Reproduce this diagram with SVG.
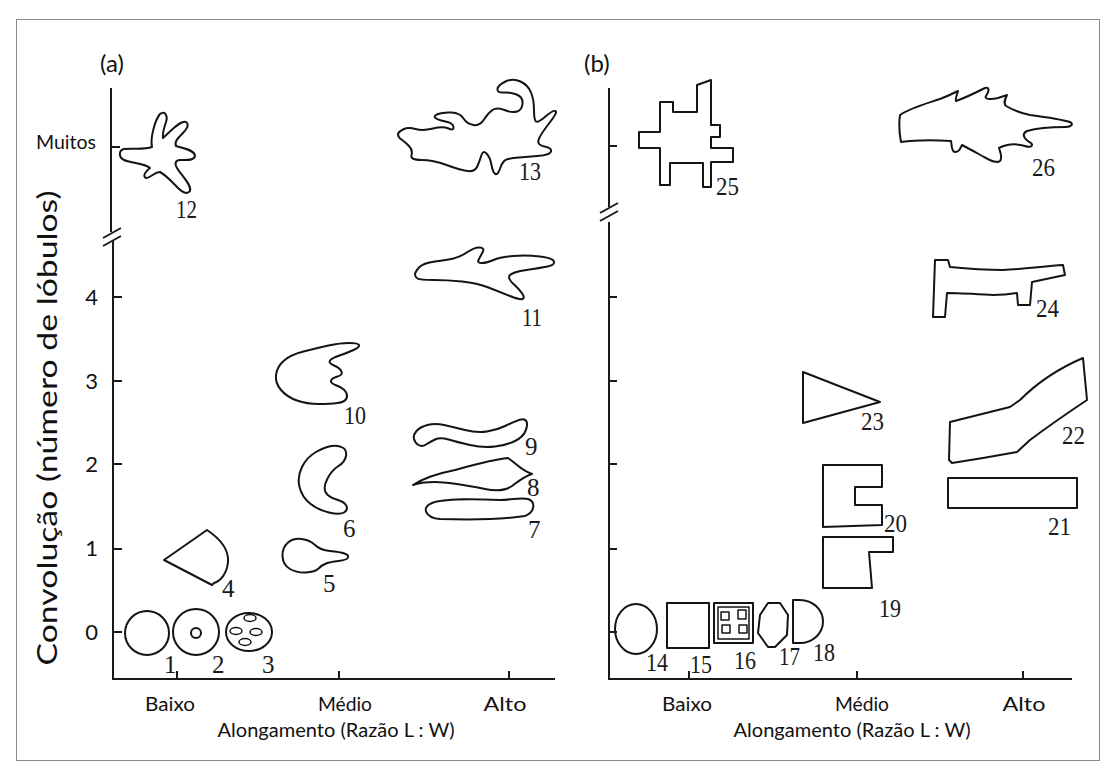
<svg xmlns="http://www.w3.org/2000/svg" width="1118" height="779" viewBox="0 0 1118 779">
<style>
  .ax{stroke:#1a1a1a;stroke-width:2;fill:none}
  .sh{stroke:#141414;stroke-width:2;fill:none;stroke-linejoin:round;stroke-linecap:round}
  .thin{stroke-width:1.5}
  .num{font-family:"Liberation Serif","Times New Roman",serif;font-size:25px;fill:#1a1a1a}
  .lbl{font-family:Lato,"Liberation Sans",sans-serif;font-size:19.5px;fill:#111;text-anchor:middle}
  .tk{font-family:Lato,"Liberation Sans",sans-serif;font-size:22px;fill:#111;text-anchor:end}
  .pn{font-family:Lato,"Liberation Sans",sans-serif;font-size:24px;fill:#111}
  .yl{font-family:Lato,"Liberation Sans",sans-serif;font-size:27px;fill:#111;text-anchor:middle}
</style>
<rect x="0" y="0" width="1118" height="779" fill="#ffffff"/>
<rect x="16.5" y="19.5" width="1083" height="741" fill="none" stroke="#8a8a8a" stroke-width="1"/>

<!-- panel (a) axes -->
<g id="axes-a">
  <g class="ax">
    <path d="M111,88 V232"/>
    <path d="M113,240 V679 H555"/>
    <path d="M111,147 H120"/>
    <path d="M113,297 H122 M113,381 H122 M113,464 H122 M113,549 H122 M113,632 H122"/>
    <path d="M177,679 V671 M339,679 V671 M509,679 V671"/>
    <path d="M103,238 L121,228 M103,246 L121,236"/>
  </g>
  <text class="pn" x="100" y="72">(a)</text>
  <text class="tk" x="96" y="149" style="font-size:19px" textLength="60" lengthAdjust="spacingAndGlyphs">Muitos</text>
  <text class="tk" x="98" y="305">4</text>
  <text class="tk" x="98" y="389">3</text>
  <text class="tk" x="98" y="472">2</text>
  <text class="tk" x="98" y="556">1</text>
  <text class="tk" x="98" y="640">0</text>
  <text class="yl" transform="translate(57,428) rotate(-90)" textLength="475" lengthAdjust="spacingAndGlyphs">Convolução (número de lóbulos)</text>
  <text class="lbl" x="170" y="711" textLength="50" lengthAdjust="spacingAndGlyphs">Baixo</text>
  <text class="lbl" x="345" y="711" textLength="54" lengthAdjust="spacingAndGlyphs">Médio</text>
  <text class="lbl" x="505" y="711" textLength="43" lengthAdjust="spacingAndGlyphs">Alto</text>
  <text class="lbl" x="336" y="737" textLength="237" lengthAdjust="spacingAndGlyphs">Alongamento (Razão L : W)</text>
</g>

<!-- panel (b) axes -->
<g id="axes-b">
  <g class="ax">
    <path d="M609,88 V207"/>
    <path d="M609,222 V679 H1072"/>
    <path d="M609,146 H617"/>
    <path d="M609,297 H617 M609,381 H617 M609,464 H617 M609,549 H617 M609,632 H617"/>
    <path d="M689,679 V671 M857,679 V671 M1023,679 V671"/>
    <path d="M600,213 L618,203 M600,221 L618,211"/>
  </g>
  <text class="pn" x="584" y="72">(b)</text>
  <text class="lbl" x="687" y="711" textLength="50" lengthAdjust="spacingAndGlyphs">Baixo</text>
  <text class="lbl" x="862" y="711" textLength="54" lengthAdjust="spacingAndGlyphs">Médio</text>
  <text class="lbl" x="1024" y="711" textLength="43" lengthAdjust="spacingAndGlyphs">Alto</text>
  <text class="lbl" x="852" y="737" textLength="237" lengthAdjust="spacingAndGlyphs">Alongamento (Razão L : W)</text>
</g>

<!-- panel (a) shapes -->
<g id="shape-1"><circle class="sh" cx="147" cy="633" r="22"/><text class="num" x="164" y="673">1</text></g>
<g id="shape-2"><circle class="sh" cx="196" cy="632" r="23"/><circle class="sh" cx="196" cy="633" r="5"/><text class="num" x="212" y="673">2</text></g>
<g id="shape-3">
  <ellipse class="sh" cx="249" cy="632" rx="23" ry="19"/>
  <ellipse class="sh thin" cx="250" cy="618" rx="6" ry="3.5"/>
  <ellipse class="sh thin" cx="236" cy="631" rx="6" ry="3.5"/>
  <ellipse class="sh thin" cx="256" cy="632" rx="6" ry="3.5"/>
  <ellipse class="sh thin" cx="245" cy="642" rx="6" ry="3.5"/>
  <text class="num" x="262" y="673">3</text>
</g>
<g id="shape-4"><path class="sh" d="M164,560 L207,530 C219,538 229,549 228,562 C227,573 221,581 214,583 L212,585 Z"/><text class="num" x="222" y="597">4</text></g>
<g id="shape-5"><path class="sh" d="M287.5,543 Q293,538 301.5,539 Q310,540 315,545 Q320,550 330,551 Q340,552 344.5,553.5 Q349,555 348,557.5 Q347,560 338.5,561 Q330,562 326,563.5 Q322,565 318.5,568.5 Q315,572 306,572.5 Q297,573 290,569 Q283,565 282.5,556.5 Q282,548 287.5,543 Z"/><text class="num" x="323" y="592">5</text></g>
<g id="shape-6"><path class="sh" d="M331.5,446 Q338,445 342.5,447.5 Q347,450 346,456 Q345,462 338.5,466 Q332,470 327.5,478.5 Q323,487 325.5,492 Q328,497 336.5,499.5 Q345,502 346.5,506 Q348,510 344,512.5 Q340,515 329,512.5 Q318,510 310,503.5 Q302,497 299.5,487 Q297,477 302,467 Q307,457 316,452 Q325,447 331.5,446 Z"/><text class="num" x="343" y="537">6</text></g>
<g id="shape-7"><path class="sh" d="M432,503 C445,498 475,499 500,500 C512,500 520,497 528,499 C536,502 535,512 525,516 C505,519 470,520 440,519 C425,518 421,507 432,503 Z"/><text class="num" x="528" y="538">7</text></g>
<g id="shape-8"><path class="sh" d="M413,485 C425,477 440,473 455,470 C470,466 490,460 508,458 C515,462 520,470 532,474 C525,476 520,480 512,486 C505,491 495,491 485,489 C470,486 450,482 435,482 C425,482 418,483 413,485 Z"/><text class="num" x="527" y="496">8</text></g>
<g id="shape-9"><path class="sh" d="M418.5,445 Q415,443 414,439 Q413,435 416.5,431 Q420,427 427.5,425 Q435,423 444,425 Q453,427 465,430 Q477,433 487,431.5 Q497,430 505,426 Q513,422 519,420 Q525,418 526.5,421.5 Q528,425 525.5,431 Q523,437 515,441 Q507,445 495,446.5 Q483,448 470,445 Q457,442 448.5,439.5 Q440,437 435,439.5 Q430,442 426,444.5 Q422,447 418.5,445 Z"/><text class="num" x="525" y="455">9</text></g>
<g id="shape-10"><path class="sh" d="M349,343 Q358,343 359,345 Q360,347 353.5,350 Q347,353 339.5,355.5 Q332,358 330,360.5 Q328,363 334,365.5 Q340,368 341.5,371.5 Q343,375 337.5,376.5 Q332,378 331,380.5 Q330,383 336.5,385.5 Q343,388 345.5,391.5 Q348,395 346.5,398.5 Q345,402 337.5,403 Q330,404 318.5,404 Q307,404 297,400.5 Q287,397 281,390 Q275,383 276,375 Q277,367 283.5,361 Q290,355 303.5,351.5 Q317,348 328.5,345.5 Q340,343 349,343 Z"/><text class="num" x="344" y="424" textLength="22" lengthAdjust="spacingAndGlyphs">10</text></g>
<g id="shape-11"><path class="sh" d="M415,274.5 Q415,272 419,267.5 Q423,263 435,261.5 Q447,260 453.5,258.5 Q460,257 467.5,252 Q475,247 480,247.5 Q485,248 482.5,252.5 Q480,257 478.5,260 Q477,263 482,263 Q487,263 493.5,260 Q500,257 513.5,256 Q527,255 540,256.5 Q553,258 554,261.5 Q555,265 547.5,266.5 Q540,268 526.5,270 Q513,272 510,275 Q507,278 513.5,284 Q520,290 522.5,294 Q525,298 522.5,299 Q520,300 510,296 Q500,292 488.5,287.5 Q477,283 462,281.5 Q447,280 433.5,280 Q420,280 417.5,278.5 Q415,277 415,274.5 Z"/><text class="num" x="522" y="326" textLength="20" lengthAdjust="spacingAndGlyphs">11</text></g>
<g id="shape-12"><path class="sh" d="M152,147 C150,138 155,120 160,114 C165,110 168,116 166,122 C164,128 162,134 163,138 C170,132 180,120 186,122 C190,125 186,130 182,134 C178,138 174,142 176,146 C183,148 195,150 195,156 C194,161 186,160 180,160 C176,160 174,163 177,168 C181,175 192,185 190,191 C187,195 182,192 178,188 C172,182 166,175 160,172 C155,172 150,178 146,178 C142,176 146,171 150,168 C145,163 130,163 124,160 C118,157 119,150 124,149 C132,148 144,150 152,147 Z"/><text class="num" x="176" y="218" textLength="21" lengthAdjust="spacingAndGlyphs">12</text></g>
<g id="shape-13"><path class="sh" d="M398,134.5 Q398,132 403,129.5 Q408,127 415.5,129 Q423,131 433,128.5 Q443,126 448.5,128.5 Q454,131 453.5,127 Q453,123 445.5,121.5 Q438,120 435.5,118 Q433,116 438,114 Q443,112 451.5,112.5 Q460,113 463.5,118.5 Q467,124 473.5,125 Q480,126 484,119.5 Q488,113 492.5,110 Q497,107 504.5,110 Q512,113 517,111.5 Q522,110 522.5,103.5 Q523,97 516.5,94.5 Q510,92 503.5,92.5 Q497,93 497.5,89 Q498,85 505.5,81.5 Q513,78 520.5,81.5 Q528,85 531,92.5 Q534,100 534,110 Q534,120 536,121.5 Q538,123 545.5,116.5 Q553,110 555.5,111 Q558,112 549,123.5 Q540,135 538.5,140 Q537,145 544.5,146.5 Q552,148 551,151.5 Q550,155 537.5,156 Q525,157 519,157.5 Q513,158 508,159 Q503,160 500.5,167.5 Q498,175 495.5,174 Q493,173 491.5,165 Q490,157 486.5,153.5 Q483,150 481.5,155 Q480,160 477.5,166 Q475,172 467.5,171 Q460,170 446.5,165 Q433,160 421.5,160 Q410,160 411.5,155 Q413,150 409,146 Q405,142 401.5,139.5 Q398,137 398,134.5 Z"/><text class="num" x="519" y="180" textLength="22" lengthAdjust="spacingAndGlyphs">13</text></g>

<!-- panel (b) shapes -->
<g id="shape-14"><ellipse class="sh" cx="636" cy="629" rx="21" ry="25"/><text class="num" x="646" y="671" textLength="22" lengthAdjust="spacingAndGlyphs">14</text></g>
<g id="shape-15"><rect class="sh" x="667" y="603" width="42" height="45"/><text class="num" x="690" y="673" textLength="22" lengthAdjust="spacingAndGlyphs">15</text></g>
<g id="shape-16">
  <rect class="sh" x="714" y="603" width="39" height="40"/>
  <rect class="sh thin" x="718" y="607" width="31" height="32"/>
  <rect class="sh thin" x="721" y="612" width="8" height="8"/>
  <rect class="sh thin" x="738" y="610" width="8" height="9"/>
  <rect class="sh thin" x="722" y="625" width="8" height="8"/>
  <rect class="sh thin" x="739" y="625" width="8" height="8"/>
  <text class="num" x="734" y="669" textLength="22" lengthAdjust="spacingAndGlyphs">16</text>
</g>
<g id="shape-17"><path class="sh" d="M760,615 L768,603 L780,603 L788,615 L787,635 L775,647 L768,647 L758,633 Z"/><text class="num" x="779" y="665" textLength="21" lengthAdjust="spacingAndGlyphs">17</text></g>
<g id="shape-18"><path class="sh" d="M793,600 L800,600 A23,21.5 0 0 1 800,643 L793,643 Z"/><text class="num" x="813" y="661" textLength="22" lengthAdjust="spacingAndGlyphs">18</text></g>
<g id="shape-19"><path class="sh" d="M823,537 L893,537 L893,552 L869,552 L872,588 L823,588 Z"/><text class="num" x="879" y="617" textLength="22" lengthAdjust="spacingAndGlyphs">19</text></g>
<g id="shape-20"><path class="sh" d="M823,465 L882,465 L882,487 L855,487 L855,505 L882,505 L882,525 L823,527 Z"/><text class="num" x="884" y="532" textLength="23" lengthAdjust="spacingAndGlyphs">20</text></g>
<g id="shape-21"><rect class="sh" x="948" y="478" width="129" height="30"/><text class="num" x="1048" y="535" textLength="23" lengthAdjust="spacingAndGlyphs">21</text></g>
<g id="shape-22"><path class="sh" d="M950,422 L1010,407 L1020,400 C1030,390 1050,372 1083,358 L1087,400 C1075,408 1050,425 1030,440 L1017,452 L983,458 L952,463 L949,460 Z"/><text class="num" x="1062" y="444" textLength="23" lengthAdjust="spacingAndGlyphs">22</text></g>
<g id="shape-23"><path class="sh" d="M803,372 L880,402 L803,423 Z"/><text class="num" x="861" y="430" textLength="23" lengthAdjust="spacingAndGlyphs">23</text></g>
<g id="shape-24"><path class="sh" d="M935,260 L948,260 L950,267 C970,269 990,270 1003,270 C1025,269 1045,266 1063,265 L1065,275 L1032,282 L1030,305 L1018,305 L1017,293 C1005,295 995,295 993,295 C975,294 960,293 947,293 L945,317 L933,317 Z"/><text class="num" x="1036" y="317" textLength="23" lengthAdjust="spacingAndGlyphs">24</text></g>
<g id="shape-25"><path class="sh" d="M660,102 L673,102 L673,112 L697,112 L697,85 L711,80 L711,125 L720,125 L720,137 L711,137 L711,148 L733,148 L733,162 L711,162 L711,187 L703,187 L703,163 L670,163 L670,185 L660,185 L660,148 L639,148 L639,132 L660,132 Z"/><text class="num" x="716" y="195" textLength="23" lengthAdjust="spacingAndGlyphs">25</text></g>
<g id="shape-26"><path class="sh" d="M900,115 C910,108 925,104 940,99 C948,96 954,93 958,91 C957,95 955,99 956,101 C965,98 975,93 985,88 C989,87 990,90 986,96 C984,99 990,100 998,98 L1007,95 C1005,99 1003,103 1006,106 C1013,110 1020,113 1030,115 C1045,117 1060,119 1070,122 C1074,124 1071,127 1066,127 C1055,127 1040,127 1027,131 C1021,134 1024,139 1031,143 C1034,146 1030,148 1025,146 C1015,143 1005,145 999,148 C1000,152 1003,157 1000,161 C996,164 990,160 984,157 C975,152 968,148 962,145 C960,149 959,152 955,152 C951,152 952,145 951,141 C935,140 915,140 901,142 C899,132 899,122 900,115 Z"/><text class="num" x="1032" y="176" textLength="23" lengthAdjust="spacingAndGlyphs">26</text></g>
</svg>
